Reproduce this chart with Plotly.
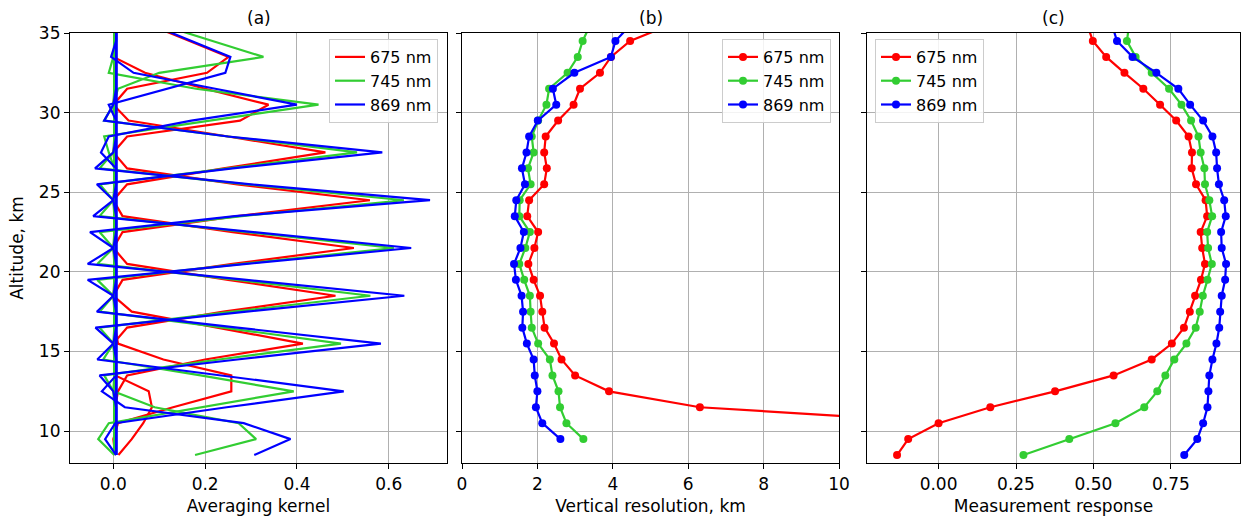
import plotly.graph_objects as go

# ---------------- data ----------------
WAVELENGTHS = ["675 nm", "745 nm", "869 nm"]
COLORS = ["#ff0000", "#32cd32", "#0000ff"]

# altitude grid for panel (a) and (c)
ALT = [8.5, 9.5, 10.5, 11.5, 12.5, 13.5, 14.5, 15.5, 16.5, 17.5, 18.5, 19.5, 20.5, 21.5,
       22.5, 23.5, 24.5, 25.5, 26.5, 27.5, 28.5, 29.5, 30.5, 31.5, 32.5, 33.5, 34.5, 35.5]

# averaging kernels: peak altitudes and values at offsets -3..+3 km around each peak
KERNEL_PEAKS = [9.5, 12.5, 15.5, 18.5, 21.5, 24.5, 27.5, 30.5, 33.5]
KERNEL_OFFSETS = [-3, -2, -1, 0, 1, 2, 3]
AK_675 = [
    [0.0, 0.0, 0.011, 0.040, 0.065, 0.084, 0.077],
    [0.0, 0.010, 0.130, 0.257, 0.257, 0.109, 0.010],
    [0.010, 0.030, 0.200, 0.413, 0.226, 0.040, 0.0],
    [0.0, 0.030, 0.240, 0.484, 0.250, 0.030, 0.0],
    [0.0, 0.020, 0.260, 0.524, 0.260, 0.020, 0.0],
    [0.0, 0.020, 0.270, 0.559, 0.270, 0.030, 0.0],
    [0.0, 0.030, 0.240, 0.462, 0.250, 0.033, 0.0],
    [0.0, 0.030, 0.276, 0.338, 0.200, 0.069, 0.0],
    [0.0, 0.030, 0.204, 0.251, 0.166, 0.080, 0.0],
]
AK_745 = [
    [0.0, 0.0, 0.178, 0.311, 0.273, 0.090, 0.0],
    [-0.033, -0.010, 0.190, 0.393, 0.190, -0.022, 0.0],
    [0.0, -0.020, 0.230, 0.496, 0.240, -0.030, 0.0],
    [0.0, -0.030, 0.260, 0.560, 0.270, -0.035, 0.0],
    [0.0, -0.035, 0.280, 0.611, 0.290, -0.030, 0.0],
    [0.0, -0.030, 0.280, 0.633, 0.290, -0.030, 0.0],
    [0.0, -0.030, 0.250, 0.531, 0.250, -0.020, 0.0],
    [-0.010, -0.020, 0.210, 0.447, 0.180, -0.010, 0.0],
    [0.0, 0.010, 0.100, 0.327, 0.216, 0.105, 0.0],
]
AK_869 = [
    [0.0, 0.0, 0.307, 0.386, 0.284, 0.025, -0.025],
    [-0.018, 0.004, 0.247, 0.502, 0.235, -0.035, 0.0],
    [0.0, -0.030, 0.270, 0.583, 0.270, -0.036, 0.0],
    [0.0, -0.039, 0.290, 0.634, 0.290, -0.056, 0.0],
    [0.0, -0.056, 0.290, 0.649, 0.305, -0.044, 0.0],
    [0.0, -0.051, 0.265, 0.690, 0.300, -0.040, 0.0],
    [0.0, -0.036, 0.260, 0.586, 0.250, -0.020, 0.0],
    [-0.027, -0.010, 0.170, 0.400, 0.222, 0.044, -0.005],
    [-0.010, 0.116, 0.244, 0.255, 0.170, 0.085, 0.0],
]
# small baseline level of each wavelength's kernels away from their peaks
AK_BASE = [0.004, 0.002, 0.006]

# vertical resolution, km (panel b)
ALT_B = [9.5, 10.5, 11.5, 12.5, 13.5, 14.5, 15.5, 16.5, 17.5, 18.5, 19.5, 20.5, 21.5,
         22.5, 23.5, 24.5, 25.5, 26.5, 27.5, 28.5, 29.5, 30.5, 31.5, 32.5, 33.5, 34.5, 35.5]
VR_675 = [None, 13.2, 6.31, 3.90, 3.00, 2.64, 2.44, 2.19, 2.13, 2.07, 1.90, 1.76, 1.92,
          2.02, 1.73, 1.78, 2.18, 2.25, 2.18, 2.22, 2.55, 2.96, 3.13, 3.66, 3.95, 4.46, 5.50]
VR_745 = [3.22, 2.77, 2.60, 2.56, 2.40, 2.33, 2.02, 1.85, 1.82, 1.80, 1.65, 1.52, 1.68,
          1.80, 1.52, 1.53, 1.82, 1.75, 1.90, 1.85, 2.02, 2.24, 2.31, 2.80, 3.07, 3.20, 3.40]
VR_869 = [2.61, 2.13, 1.96, 2.00, 1.93, 1.90, 1.72, 1.60, 1.62, 1.58, 1.43, 1.38, 1.55,
          1.64, 1.40, 1.44, 1.67, 1.59, 1.71, 1.78, 2.01, 2.50, 2.41, 2.98, 3.95, 4.07, 4.47]

# measurement response (panel c)
MR_675 = [-0.134, -0.098, 0.000, 0.167, 0.376, 0.565, 0.688, 0.753, 0.792, 0.811, 0.828, 0.847,
          0.860, 0.851, 0.846, 0.867, 0.862, 0.831, 0.817, 0.818, 0.807, 0.767, 0.715, 0.661,
          0.600, 0.541, 0.498, 0.480]
MR_745 = [0.274, 0.422, 0.571, 0.664, 0.706, 0.732, 0.761, 0.800, 0.830, 0.843, 0.853, 0.868,
          0.882, 0.870, 0.867, 0.883, 0.874, 0.860, 0.858, 0.846, 0.839, 0.815, 0.784, 0.744,
          0.688, 0.636, 0.608, 0.615]
MR_869 = [0.793, 0.835, 0.854, 0.868, 0.871, 0.874, 0.884, 0.897, 0.906, 0.909, 0.914, 0.925,
          0.928, 0.914, 0.912, 0.927, 0.922, 0.905, 0.899, 0.896, 0.884, 0.854, 0.812, 0.774,
          0.703, 0.626, 0.576, 0.560]

# ---------------- figure ----------------
W, H = 1244, 519
FONT = "DejaVu Sans"
FS = 17
LFS = 16

fig = go.Figure()

# panel (a): averaging kernels
for name, color, kernels, base in zip(WAVELENGTHS, COLORS, [AK_675, AK_745, AK_869], AK_BASE):
    for k, (peak, win) in enumerate(zip(KERNEL_PEAKS, kernels)):
        row = {a: base for a in ALT}
        for off, val in zip(KERNEL_OFFSETS, win):
            a = peak + off
            if a in row:
                row[a] = val
        fig.add_trace(go.Scatter(
            x=[row[a] for a in ALT], y=ALT, mode="lines",
            line=dict(color=color, width=2.2),
            name=name, legendgroup="a" + name, showlegend=(k == 0),
            legend="legend", xaxis="x", yaxis="y"))

# panel (b): vertical resolution
for name, color, vals in zip(WAVELENGTHS, COLORS, [VR_675, VR_745, VR_869]):
    fig.add_trace(go.Scatter(
        x=vals, y=ALT_B, mode="lines+markers",
        line=dict(color=color, width=2.2), marker=dict(color=color, size=8),
        name=name, legend="legend2", xaxis="x2", yaxis="y2"))

# panel (c): measurement response
for name, color, vals in zip(WAVELENGTHS, COLORS, [MR_675, MR_745, MR_869]):
    fig.add_trace(go.Scatter(
        x=vals, y=ALT, mode="lines+markers",
        line=dict(color=color, width=2.2), marker=dict(color=color, size=8),
        name=name, legend="legend3", xaxis="x3", yaxis="y3"))

ydom = [1 - 463 / H, 1 - 33 / H]
doms = [(70, 447), (462, 839), (867, 1240)]

axis_common = dict(
    showline=True, linecolor="black", linewidth=1.2, mirror=True,
    ticks="outside", ticklen=5, tickwidth=1.2, tickcolor="black",
    showgrid=True, gridcolor="#b0b0b0", gridwidth=1, zeroline=False,
    tickfont=dict(family=FONT, size=FS, color="black"),
    automargin=False,
)
title_font = dict(family=FONT, size=FS, color="black")

xa = dict(axis_common, domain=[doms[0][0] / W, doms[0][1] / W], range=[-0.0945, 0.727],
          tickvals=[0.0, 0.2, 0.4, 0.6], ticktext=["0.0", "0.2", "0.4", "0.6"],
          title=dict(text="Averaging kernel", font=title_font, standoff=7), anchor="y")
xb = dict(axis_common, domain=[doms[1][0] / W, doms[1][1] / W], range=[0, 10],
          tickvals=[0, 2, 4, 6, 8, 10], ticktext=["0", "2", "4", "6", "8", "10"],
          title=dict(text="Vertical resolution, km", font=title_font, standoff=7), anchor="y2")
xc = dict(axis_common, domain=[doms[2][0] / W, doms[2][1] / W], range=[-0.231, 0.973],
          tickvals=[0.0, 0.25, 0.5, 0.75], ticktext=["0.00", "0.25", "0.50", "0.75"],
          title=dict(text="Measurement response", font=title_font, standoff=7), anchor="y3")

ycommon = dict(axis_common, domain=ydom, range=[8.0, 35.0],
               tickvals=[10, 15, 20, 25, 30, 35])
ya = dict(ycommon, anchor="x", title=dict(text="Altitude, km", font=title_font, standoff=10))
yb = dict(ycommon, anchor="x2", showticklabels=False)
yc = dict(ycommon, anchor="x3", showticklabels=False)

legend_common = dict(
    bgcolor="rgba(255,255,255,0.85)", bordercolor="#cccccc", borderwidth=1,
    font=dict(family=FONT, size=LFS, color="black"), itemwidth=30,
    tracegroupgap=0, yanchor="top", y=1 - 39 / H,
)

annotations = []
for (l, r), t in zip(doms, ["(a)", "(b)", "(c)"]):
    annotations.append(dict(text=t, x=(l + r) / 2 / W, y=1 - 18 / H, xref="paper", yref="paper",
                            showarrow=False, xanchor="center", yanchor="middle",
                            font=title_font))

fig.update_layout(
    width=W, height=H, margin=dict(l=0, r=0, t=0, b=0, autoexpand=False),
    paper_bgcolor="white", plot_bgcolor="white",
    font=dict(family=FONT, size=FS, color="black"),
    xaxis=xa, xaxis2=xb, xaxis3=xc, yaxis=ya, yaxis2=yb, yaxis3=yc,
    legend=dict(legend_common, x=438 / W, xanchor="right"),
    legend2=dict(legend_common, x=831 / W, xanchor="right"),
    legend3=dict(legend_common, x=875 / W, xanchor="left"),
    annotations=annotations,
    showlegend=True,
)

fig.write_html("out.html", config={"displayModeBar": False},
               post_script="document.body.style.margin='0';")
